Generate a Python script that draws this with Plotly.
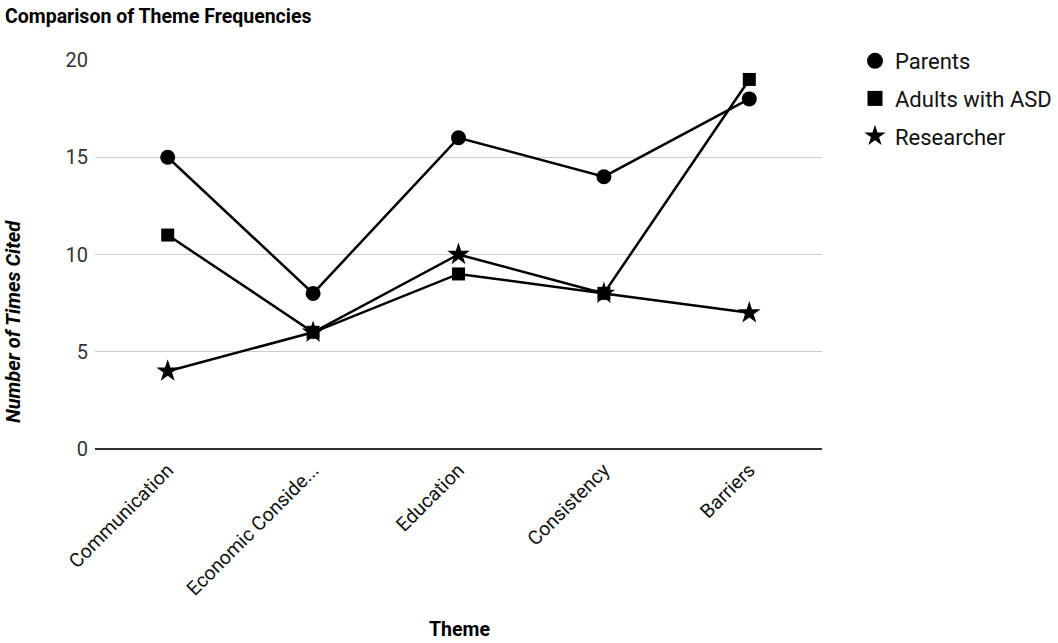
import plotly.graph_objects as go

categories = ["Communication", "Economic Conside...", "Education", "Consistency", "Barriers"]
parents = [15, 8, 16, 14, 18]
adults_asd = [11, 6, 9, 8, 19]
researcher = [4, 6, 10, 8, 7]
y_ticks = [0, 5, 10, 15, 20]

series = [
    ("Parents", parents, "circle", 15, 19),
    ("Adults with ASD", adults_asd, "square", 13, 15),
    ("Researcher", researcher, "star", 17, 19),
]

W, H = 1058, 643
L, R, T, B = 95, 236, 60, 194
pw, ph = W - L - R, H - T - B

fig = go.Figure()
for name, vals, sym, sz, lsz in series:
    fig.add_trace(go.Scatter(
        x=categories, y=vals, mode="lines+markers", name=name,
        line=dict(color="black", width=2.5),
        marker=dict(symbol=sym, size=sz, color="black", line=dict(width=0)),
        showlegend=False))
for name, vals, sym, sz, lsz in series:
    fig.add_trace(go.Scatter(
        x=[None], y=[None], mode="markers", name=name, legendgroup=name,
        marker=dict(symbol=sym, size=lsz, color="black", line=dict(width=0)),
        showlegend=True, hoverinfo="skip"))

font = "Roboto, Arial, sans-serif"
fig.update_layout(
    width=W, height=H,
    margin=dict(l=L, r=R, t=T, b=B, autoexpand=False),
    paper_bgcolor="white", plot_bgcolor="white",
    font=dict(family=font, color="#222"),
    title=dict(text="<b>Comparison of Theme Frequencies</b>", x=5 / W, xref="container",
               xanchor="left", y=1 - 16 / H, yref="container", yanchor="middle",
               font=dict(size=19.5, color="#000", family=font)),
    legend=dict(x=(855 - L) / pw, xanchor="left", y=1 + 20 / ph, yanchor="top",
                font=dict(size=22, color="#111", family=font), tracegroupgap=6,
                bgcolor="rgba(0,0,0,0)"),
    xaxis=dict(type="category", range=[-0.5, 4.5], showgrid=False, showline=False,
               zeroline=False, tickangle=-45, tickfont=dict(size=19.5, color="#111"),
               ticks="outside", ticklen=1, tickcolor="rgba(0,0,0,0)"),
    yaxis=dict(range=[0, 20], tickvals=y_ticks, showgrid=True, gridcolor="#cccccc",
               gridwidth=1, zeroline=True, zerolinecolor="#333333", zerolinewidth=1.5,
               showline=False, tickfont=dict(size=20, color="#333"),
               ticks="outside", ticklen=2, tickcolor="rgba(0,0,0,0)"),
    annotations=[
        dict(text="<b><i>Number of Times Cited</i></b>", xref="paper", yref="paper",
             x=(13 - L) / pw, y=(449 - 322) / ph, xanchor="center", yanchor="middle",
             textangle=-90, showarrow=False,
             font=dict(size=20, color="#000", family=font)),
        dict(text="<b>Theme</b>", xref="paper", yref="paper",
             x=(459 - L) / pw, y=(449 - 643) / ph, xanchor="center", yanchor="bottom",
             showarrow=False,
             font=dict(size=19.5, color="#000", family=font)),
    ],
)

fig.write_html("out.html")
